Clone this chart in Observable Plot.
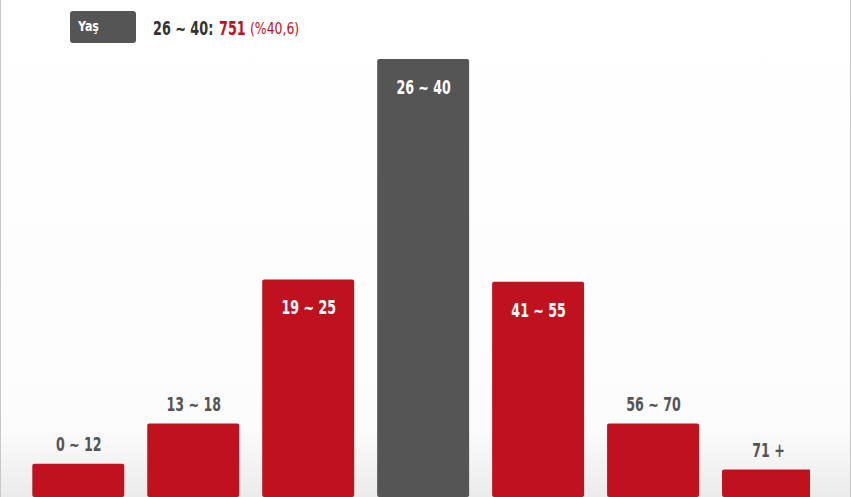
<!DOCTYPE html>
<html>
<head>
<meta charset="utf-8">
<script src="https://cdn.jsdelivr.net/npm/d3@7"></script>
<script src="https://cdn.jsdelivr.net/npm/@observablehq/plot@0.6"></script>
<style>
  html, body { margin: 0; padding: 0; background: #fff; }
  #frame {
    position: relative; width: 849px; height: 497px;
    border-left: 1px solid #c8c8c8; border-right: 1px solid #c8c8c8;
    background: linear-gradient(to bottom, #ffffff 0%, #fcfcfc 86%, #ebebeb 100%);
    overflow: hidden;
    font-family: "DejaVu Sans Condensed", "DejaVu Sans", sans-serif;
  }
  #header { position: relative; height: 50px; }
  #tag {
    position: absolute; left: 69px; top: 11px; width: 66px; height: 32px;
    background: #555555; border-radius: 3px; color: #fff;
    font-weight: bold; font-size: 14px; line-height: 14px;
  }
  #tag span { position: absolute; left: 8px; top: 8px; display: inline-block; transform: scaleX(0.88); transform-origin: left center; }
  .h { position: absolute; white-space: nowrap; display: inline-block; transform-origin: left top; }
  #lab { left: 152px; top: 16px; font-weight: bold; font-size: 20px; color: #333; transform: scaleX(0.71); }
  #val { left: 218px; top: 16px; font-weight: bold; font-size: 20px; color: #c0121e; transform: scaleX(0.71); }
  #pct { left: 249px; top: 20px; font-size: 15px; color: #c0121e; transform: scaleX(0.92); }
  #chart { position: relative; width: 809px; height: 447px; overflow: hidden; }
  #chart svg { background: transparent !important; max-width: none !important; }
</style>
</head>
<body>
<div id="frame">
  <div id="header">
    <div id="tag"><span>Yaş</span></div>
    <span class="h" id="lab"></span>
    <span class="h" id="val"></span>
    <span class="h" id="pct"></span>
  </div>
  <div id="chart"></div>
</div>
<script>
const ages = ["0 ~ 12", "13 ~ 18", "19 ~ 25", "26 ~ 40", "41 ~ 55", "56 ~ 70", "71 +"];
const counts = [57, 126, 373, 751, 369, 126, 47];
const selected = "26 ~ 40";
const red = "#c0121e";
const gray = "#555555";

const data = ages.map((a, i) => ({age: a, count: counts[i]}));
const total = d3.sum(counts);
const selCount = counts[ages.indexOf(selected)];
const pct = (selCount / total * 100).toFixed(1).replace(".", ",");
document.getElementById("lab").textContent = `${selected}:`;
document.getElementById("val").textContent = `${selCount}`;
document.getElementById("pct").textContent = `(%${pct})`;

const inside = d => d.count > 300;

const chart = Plot.plot({
  width: 851,
  height: 447,
  marginTop: 9,
  marginBottom: 0,
  marginLeft: 0,
  marginRight: 0,
  x: {domain: ages, range: [31.3, 813], paddingInner: 0.2, paddingOuter: 0, round: false, axis: null},
  y: {axis: null},
  color: {domain: ages, range: ages.map(a => a === selected ? gray : red)},
  style: {background: "transparent", fontFamily: "'DejaVu Sans Condensed', 'DejaVu Sans', sans-serif"},
  marks: [
    Plot.barY(data, {x: "age", y: "count", fill: "age", rx: 2}),
    Plot.text(data.filter(inside), {x: "age", y: "count", text: "age", dy: 28, fill: "white",
      fontSize: 19.5, fontWeight: "bold", lineAnchor: "middle"}),
    Plot.text(data.filter(d => !inside(d)), {x: "age", y: "count", text: "age", dy: -19, fill: "#555",
      fontSize: 19.5, fontWeight: "bold", lineAnchor: "middle"})
  ]
});
chart.style.overflow = "visible";
// condense the label glyphs horizontally (narrow display face in the reference)
d3.select(chart).selectAll("g[aria-label='text'] text").each(function() {
  const t = this.getAttribute("transform") || "";
  this.setAttribute("transform", t + " scale(0.72,1)");
});
document.getElementById("chart").appendChild(chart);
</script>
</body>
</html>
